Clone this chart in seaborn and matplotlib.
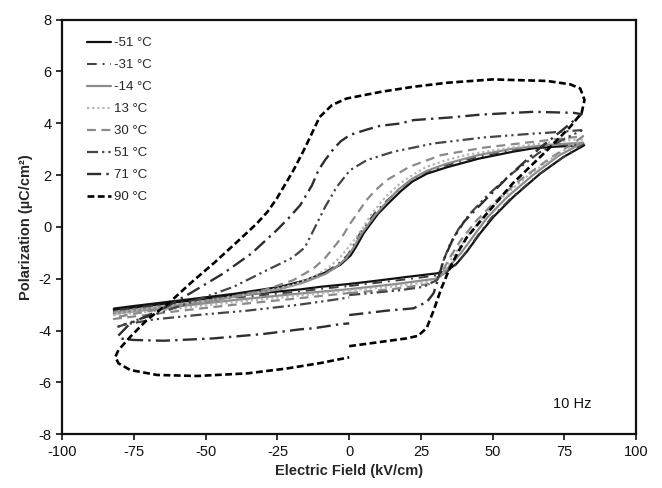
import matplotlib
matplotlib.use("Agg")
import matplotlib.pyplot as plt
import seaborn as sns
import pandas as pd

# ---- data ----
m51_E = [0, 10, 20, 30.6, 34, 37.5, 41, 45.6, 50.3, 57.2, 66.6, 74.7, 81.9, 71, 64, 57, 45, 34, 27, 22,
         18, 14, 10, 5, 2.5, 0.5, -3, -7, -15, -24, -40, -60, -75, -82, -82, -60, -40, -17, -10, 0]
m51_P = [-2.2, -2.07, -1.93, -1.79, -1.7, -1.41, -0.95, -0.25, 0.39, 1.16, 2.06, 2.70, 3.15, 3.09, 3.03, 2.90, 2.63, 2.30, 2.05, 1.75,
         1.38, 0.95, 0.50, -0.25, -0.75, -1.1, -1.45, -1.7, -2.05, -2.31, -2.58, -2.85, -3.05, -3.15, -3.2, -2.9, -2.65, -2.41, -2.31, -2.2]

m31_E = [0, 10, 20, 30, 33.5, 37, 40.5, 45, 49.5, 56.5, 66, 74.5, 81.7, 71, 63, 56, 44, 33, 26, 21,
         17, 13, 9, 4, 1.5, -0.5, -4, -8, -16, -25, -40, -60, -75, -82, -82, -60, -40, -17, -10, 0]
m31_P = [-2.28, -2.15, -2.02, -1.88, -1.78, -1.48, -1.0, -0.3, 0.35, 1.12, 2.02, 2.68, 3.2, 3.14, 3.08, 2.95, 2.68, 2.35, 2.08, 1.77,
         1.40, 1.0, 0.55, -0.2, -0.7, -1.08, -1.45, -1.72, -2.1, -2.38, -2.65, -2.93, -3.12, -3.22, -3.27, -2.98, -2.73, -2.49, -2.39, -2.28]

m14_E = [0, 15, 30, 32.5, 35, 39, 43, 48, 55, 64, 73, 81.5, 70, 57, 45, 34, 27, 22, 17, 13,
         9, 4, 1.5, -1, -4, -8, -16, -25, -40, -60, -82, -82, -60, -40, -20, 0]
m14_P = [-2.4, -2.22, -2.0, -1.85, -1.5, -1.0, -0.4, 0.35, 1.15, 2.0, 2.75, 3.25, 3.17, 3.02, 2.77, 2.44, 2.16, 1.86, 1.43, 0.95,
         0.45, -0.3, -0.8, -1.2, -1.5, -1.8, -2.15, -2.42, -2.7, -3.0, -3.3, -3.35, -3.07, -2.82, -2.6, -2.4]

p13_E = [0, 15, 29, 32, 34, 37, 41, 46, 53, 62, 72, 81.5, 64, 50, 41, 34, 27, 22, 17.8, 13,
         10.8, 7.5, 5, 2.5, 0.35, -3, -7, -12, -20, -30, -50, -70, -82, -82, -60, -40, -20, 0]
p13_P = [-2.45, -2.3, -2.1, -1.9, -1.5, -1.0, -0.4, 0.3, 1.1, 1.95, 2.75, 3.4, 3.18, 2.95, 2.78, 2.58, 2.32, 2.0, 1.68, 1.2,
         0.91, 0.45, 0.0, -0.4, -0.7, -1.15, -1.55, -1.9, -2.25, -2.5, -2.85, -3.15, -3.35, -3.4, -3.15, -2.9, -2.68, -2.45]

p30_E = [0, 15, 28, 31, 33, 35.5, 39, 44, 51, 60, 70, 77, 81.5, 64, 47, 32, 21, 13, 9, 6,
         3, 0.35, -2, -4.3, -8.4, -12.4, -19.4, -30, -50, -70, -82, -82, -60, -40, -20, 0]
p30_P = [-2.55, -2.4, -2.2, -2.0, -1.6, -1.1, -0.5, 0.2, 1.0, 1.85, 2.65, 3.15, 3.5, 3.28, 3.06, 2.77, 2.32, 1.80, 1.4, 1.03,
         0.55, 0.13, -0.3, -0.64, -1.2, -1.6, -2.05, -2.45, -2.9, -3.25, -3.5, -3.55, -3.25, -3.0, -2.78, -2.55]

p51_E = [0, 17.8, 25.9, 30.6, 32.9, 35, 38, 42, 48, 56, 66, 75, 81, 80.5, 68.9, 64.2, 46.8, 29.4, 15.4, 6.2,
         0.3, -4.3, -8.4, -12.4, -15.5, -20, -28.7, -40.3, -53.1, -64.7, -74, -80.5, -80, -68.2, -53.1, -35.6, -18.2, -7.8, 0]
p51_P = [-2.63, -2.44, -2.31, -2.05, -1.28, -0.7, -0.1, 0.5, 1.2, 2.0, 2.85, 3.4, 3.72, 3.73, 3.63, 3.60, 3.45, 3.22, 2.90, 2.58,
         2.19, 1.55, 0.77, -0.12, -0.8, -1.2, -1.67, -2.31, -2.82, -3.27, -3.59, -3.85, -3.8, -3.57, -3.40, -3.23, -3.01, -2.85, -2.72]

p71_E = [0, 13.1, 22.4, 27.1, 29.4, 31, 32.9, 36, 40, 47, 56, 66, 75, 81, 78.2, 64.2, 57.2, 45.6, 35, 22.4,
         17.8, 10.8, 6, 0.3, -3, -5.5, -8.4, -10.7, -13, -17, -21, -25.2, -34, -43.8, -55.4, -65.9, -76.3, -80.5, -80, -75.1,
         -64.7, -47.3, -29.9, -17.1, -12.4, -3.1, 0]
p71_P = [-3.40, -3.23, -3.14, -2.89, -2.56, -2.0, -1.28, -0.5, 0.2, 1.0, 2.0, 3.0, 3.8, 4.35, 4.40, 4.44, 4.40, 4.33, 4.22, 4.12,
         3.99, 3.90, 3.75, 3.55, 3.3, 3.0, 2.58, 2.19, 1.6, 0.85, 0.35, -0.12, -1.02, -1.79, -2.56, -3.21, -3.72, -4.2, -4.3, -4.36,
         -4.39, -4.30, -4.13, -3.95, -3.91, -3.75, -3.72]

p90_E = [0, 10, 20, 24, 27, 29.5, 32, 35, 38, 41, 48, 57, 69, 77, 81, 82, 80.5, 77, 69, 50,
         34, 22, 11, -1, -6, -10.3, -13.6, -16, -19.4, -25.2, -28.5, -32.2, -39, -47, -55.4, -62.4, -70.5, -76.3, -80.4, -81.5,
         -80.4, -76.3, -67, -53, -35.6, -21.7, -10, 0]
p90_P = [-4.6, -4.45, -4.3, -4.2, -3.9, -3.2, -2.4, -1.6, -0.95, -0.4, 0.52, 1.68, 2.96, 3.86, 4.4, 4.9, 5.34, 5.5, 5.63, 5.69,
         5.56, 5.40, 5.21, 4.95, 4.7, 4.24, 3.47, 2.92, 2.19, 1.10, 0.58, 0.13, -0.57, -1.38, -2.18, -2.89, -3.59, -4.24, -4.75, -5.01,
         -5.26, -5.52, -5.71, -5.75, -5.65, -5.46, -5.25, -5.03]

labels = ["-51 \u00b0C", "-31 \u00b0C", "-14 \u00b0C", "13 \u00b0C", "30 \u00b0C", "51 \u00b0C", "71 \u00b0C", "90 \u00b0C"]
x_ticks = [-100, -75, -50, -25, 0, 25, 50, 75, 100]
y_ticks = [-8, -6, -4, -2, 0, 2, 4, 6, 8]

series = [(m51_E, m51_P), (m31_E, m31_P), (m14_E, m14_P), (p13_E, p13_P),
          (p30_E, p30_P), (p51_E, p51_P), (p71_E, p71_P), (p90_E, p90_P)]

styles = [
    dict(color="#111111", lw=1.6, ls="-"),
    dict(color="#3c3c3c", lw=1.4, ls=(0, (5, 3, 1, 3))),
    dict(color="#8c8c8c", lw=1.6, ls="-"),
    dict(color="#b4b4b4", lw=1.6, ls=(0, (1, 1.3))),
    dict(color="#8a8a8a", lw=1.6, ls=(0, (4, 2.5))),
    dict(color="#454545", lw=1.6, ls=(0, (5, 1.8, 1, 1.8, 1, 1.8))),
    dict(color="#2e2e2e", lw=1.7, ls=(0, (6, 2.2, 1, 2.2))),
    dict(color="#000000", lw=1.9, ls=(0, (2.6, 1.3))),
]

sns.set_style("ticks")
plt.rcParams["font.family"] = ["Liberation Sans", "DejaVu Sans"]

fig = plt.figure(figsize=(6.62, 4.88), dpi=100)
ax = fig.add_axes([0.094, 0.110, 0.867, 0.850])

for (E, P), lab, st in zip(series, labels, styles):
    df = pd.DataFrame({"E": E, "P": P})
    sns.lineplot(data=df, x="E", y="P", sort=False, estimator=None, ax=ax,
                 color=st["color"], linewidth=st["lw"], linestyle=st["ls"], label=lab)

ax.set_xlim(-100, 100)
ax.set_ylim(-8, 8)
ax.set_xticks(x_ticks)
ax.set_yticks(y_ticks)
ax.set_xticklabels([str(v) for v in x_ticks])
ax.set_yticklabels([str(v) for v in y_ticks])
ax.tick_params(direction="out", length=4, width=1.2, labelsize=10.5, colors="#111111")
for s in ax.spines.values():
    s.set_visible(True)
    s.set_linewidth(1.6)
    s.set_color("#111111")

ax.set_xlabel("Electric Field (kV/cm)", fontsize=10.5, fontweight="bold", labelpad=4)
ax.set_ylabel("Polarization (\u00b5C/cm\u00b2)", fontsize=10.5, fontweight="bold", labelpad=4)

ax.text(71, -6.83, "10 Hz", fontsize=10.5, va="center", ha="left", color="#111111")

leg = ax.legend(loc="upper left", bbox_to_anchor=(0.025, 0.983), frameon=False,
                fontsize=9.5, handlelength=1.8, handletextpad=0.25, labelspacing=0.74,
                borderpad=0.3)

fig.savefig("out.png", dpi=100)
